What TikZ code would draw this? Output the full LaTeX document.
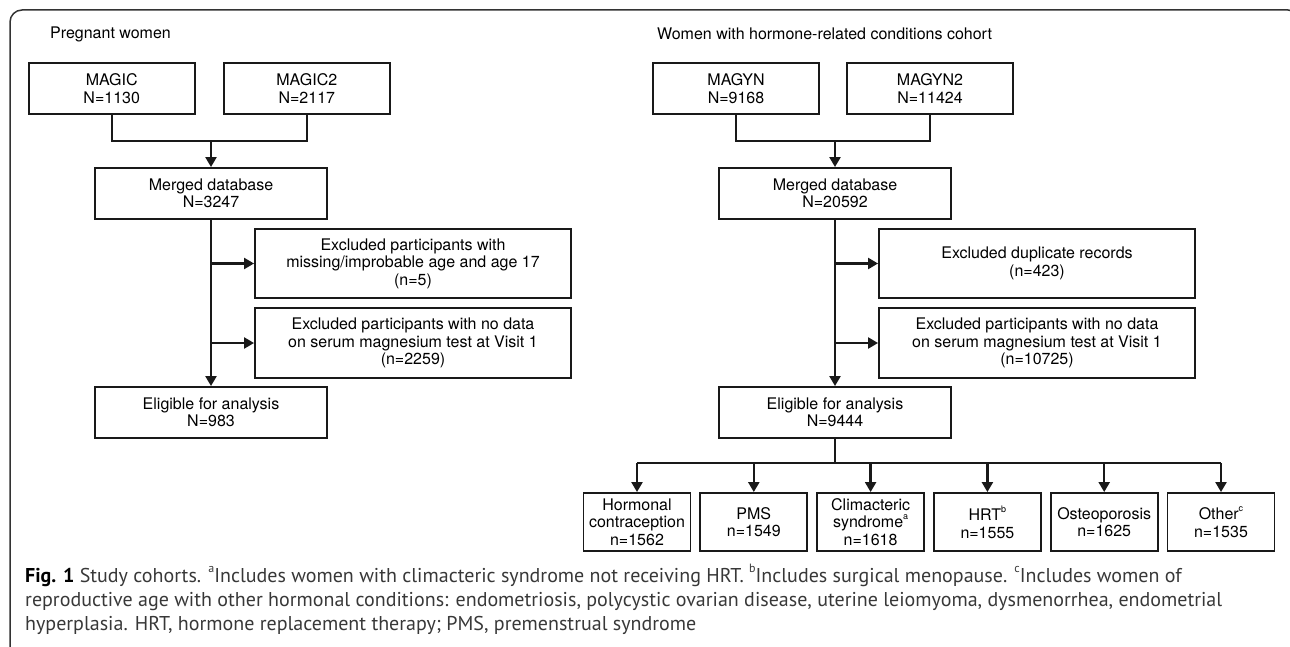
\documentclass[tikz,border=0pt]{standalone}
\usepackage{fontspec}
\setmainfont{TeX Gyre Heros}
\newfontfamily\capfont{PT Sans}
\usetikzlibrary{arrows.meta}
\newcommand\boxfont{\fontsize{16}{17.5}\selectfont}
\newcommand\capsize{\fontsize{20}{24}\selectfont}
\newcommand\bsup[1]{\raisebox{0.55em}{\fontsize{9}{9}\selectfont #1}}
\newcommand\csup[1]{\raisebox{0.5em}{\fontsize{12}{12}\selectfont #1}}
\tikzset{
  box/.style={draw=black!90, line width=1.9pt, align=center, inner sep=1pt, font=\boxfont, text=black},
  topbox/.style={box, minimum width=166pt, minimum height=51pt},
  midbox/.style={box, minimum width=232pt, minimum height=51pt},
  exbox/.style={box, minimum width=316pt, minimum height=70pt},
  kidbox/.style={box, minimum width=107pt, minimum height=58pt},
  conn/.style={line width=2.3pt, draw=black!90},
  arr/.style={conn, -{Triangle[length=10pt,width=11pt]}},
  hdr/.style={anchor=west, font=\boxfont, text=black, inner sep=0pt},
  capline/.style={anchor=base west, font=\capfont\capsize, text=black!78, inner sep=0pt},
}
\begin{document}
\begin{tikzpicture}[x=1pt,y=-1pt]
\useasboundingbox (0,0) rectangle (1290,647);
\clip (0,0) rectangle (1290,647);
% frame
\draw[line width=1.5pt, draw=black!80, rounded corners=12pt] (10,660) -- (10,10) -- (1300,10) -- (1300,60);
% headers
\node[hdr] (hL) at (50,34) {Pregnant women};
\node[hdr] (hR) at (657,34) {Women with hormone-related conditions cohort};
% left column
\node[topbox] (magic) at (111.7,88.5) {MAGIC\\N=1130};
\node[topbox] (magic2) at (306.8,88.5) {MAGIC2\\N=2117};
\node[midbox] (mergL) at (211,193.5) {Merged database\\N=3247};
\node[exbox, minimum height=69pt] (ex1L) at (413,263.5) {Excluded participants with\\missing/improbable age and age 17\\(n=5)};
\node[exbox] (ex2L) at (413,343) {Excluded participants with no data\\on serum magnesium test at Visit 1\\(n=2259)};
\node[midbox] (eligL) at (211,412.5) {Eligible for analysis\\N=983};
\coordinate (jL) at (211,141);
\draw[conn] (magic.south) |- (jL) -| (magic2.south);
\draw[arr] (jL) -- (mergL.north);
\draw[arr] (mergL.south) -- (eligL.north);
\draw[arr] (mergL.south |- ex1L.west) -- (ex1L.west);
\draw[arr] (mergL.south |- ex2L.west) -- (ex2L.west);
% right column
\node[topbox] (magyn) at (736,88.5) {MAGYN\\N=9168};
\node[topbox] (magyn2) at (930,88.5) {MAGYN2\\N=11424};
\node[midbox] (mergR) at (835,193.5) {Merged database\\N=20592};
\node[exbox, minimum height=69pt] (ex1R) at (1037,263.5) {Excluded duplicate records\\(n=423)};
\node[exbox] (ex2R) at (1037,343) {Excluded participants with no data\\on serum magnesium test at Visit 1\\(n=10725)};
\node[midbox] (eligR) at (835,412.5) {Eligible for analysis\\N=9444};
\coordinate (jR) at (835,141);
\draw[conn] (magyn.south) |- (jR) -| (magyn2.south);
\draw[arr] (jR) -- (mergR.north);
\draw[arr] (mergR.south) -- (eligR.north);
\draw[arr] (mergR.south |- ex1R.west) -- (ex1R.west);
\draw[arr] (mergR.south |- ex2R.west) -- (ex2R.west);
% children
\node[kidbox] (k1) at (637,522) {Hormonal\\contraception\\n=1562};
\node[kidbox] (k2) at (753.8,522) {PMS\\n=1549};
\node[kidbox] (k3) at (870.6,522) {Climacteric\\syndrome\bsup{a}\\n=1618};
\node[kidbox] (k4) at (987.4,522) {HRT\bsup{b}\\n=1555};
\node[kidbox] (k5) at (1104.2,522) {Osteoporosis\\n=1625};
\node[kidbox] (k6) at (1221,522) {Other\bsup{c}\\n=1535};
\coordinate (bus) at (835,463);
\draw[conn] (eligR.south) -- (bus);
\draw[conn] (k1.north |- bus) -- (k6.north |- bus);
\foreach \k in {k1,k2,k3,k4,k5,k6} \draw[arr] (\k.north |- bus) -- (\k.north);
% caption
\node[capline] (cap1) at (25,582) {{\color{black}\bfseries Fig. 1} Study cohorts. \csup{a}Includes women with climacteric syndrome not receiving HRT. \csup{b}Includes surgical menopause. \csup{c}Includes women of};
\node[capline] (cap2) at (25,606) {reproductive age with other hormonal conditions: endometriosis, polycystic ovarian disease, uterine leiomyoma, dysmenorrhea, endometrial};
\node[capline] (cap3) at (25,630) {hyperplasia. HRT, hormone replacement therapy; PMS, premenstrual syndrome};
\end{tikzpicture}
\end{document}
